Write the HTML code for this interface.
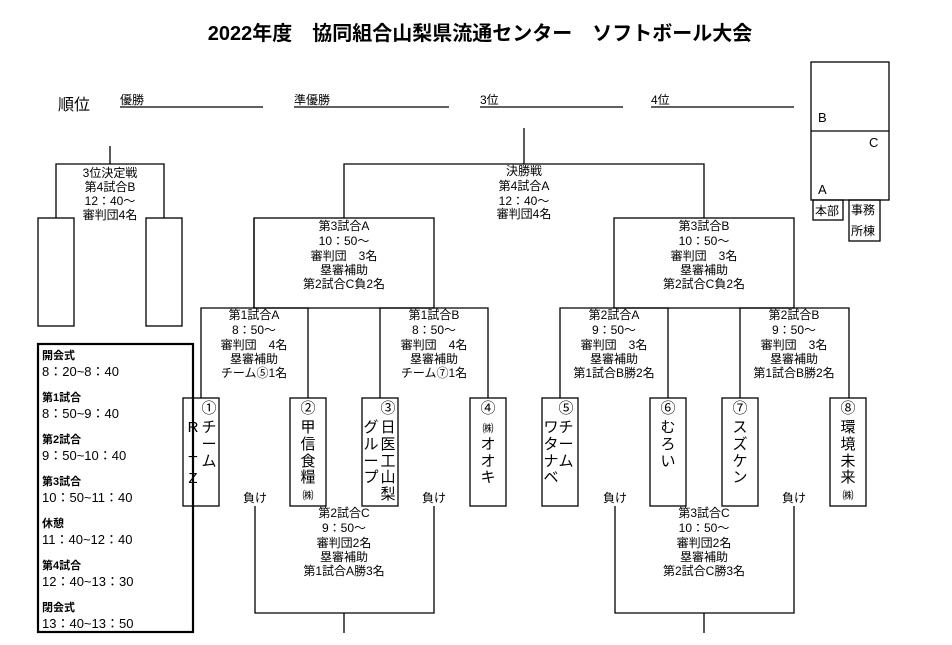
<!DOCTYPE html>
<html><head><meta charset="utf-8"><style>
html,body{margin:0;padding:0;background:#fff;}
svg{display:block;}
text{font-family:"Liberation Sans","Noto Sans CJK JP",sans-serif;fill:#000;}
.i{font-size:12px;text-anchor:middle;}
.t{font-size:15px;text-anchor:middle;}
.s{font-size:13px;}
.sb{font-size:11px;font-weight:bold;}
</style></head><body>
<svg width="952" height="645" viewBox="0 0 952 645" xmlns="http://www.w3.org/2000/svg">
<g stroke="#000" stroke-width="1.3" fill="none">
<!-- ranking lines -->
<line x1="120" y1="107" x2="263" y2="107"/>
<line x1="294" y1="107" x2="449" y2="107"/>
<line x1="480" y1="107" x2="623" y2="107"/>
<line x1="651" y1="107" x2="794" y2="107"/>
<!-- right map -->
<rect x="811" y="62" width="78" height="138"/>
<line x1="811" y1="131" x2="889" y2="131"/>
<rect x="813" y="200" width="30" height="20"/>
<rect x="849" y="200" width="31" height="41"/>
<!-- final -->
<line x1="524" y1="128" x2="524" y2="164"/>
<polyline points="254,218 254,308"/>
<polyline points="344,218 344,164 704,164 704,218"/>
<rect x="254" y="218" width="180" height="90"/>
<rect x="614" y="218" width="180" height="90"/>
<!-- 3rd place -->
<line x1="110" y1="146" x2="110" y2="164"/>
<polyline points="56,218 56,164 164,164 164,218"/>
<rect x="38" y="218" width="36" height="108"/>
<rect x="146" y="218" width="36" height="108"/>
<!-- round1 boxes -->
<polyline points="201,398 201,308 308,308 308,398"/>
<polyline points="380,398 380,308 488,308 488,398"/>
<polyline points="560,398 560,308 668,308 668,398"/>
<polyline points="740,398 740,308 849,308 849,398"/>
<!-- teams -->
<rect x="183" y="398" width="36" height="108"/>
<rect x="290" y="398" width="36" height="108"/>
<rect x="362" y="398" width="36" height="108"/>
<rect x="470" y="398" width="36" height="108"/>
<rect x="542" y="398" width="36" height="108"/>
<rect x="650" y="398" width="36" height="108"/>
<rect x="722" y="398" width="36" height="108"/>
<rect x="830" y="398" width="36" height="108"/>
<!-- loser brackets -->
<polyline points="255,506 255,613 434,613 434,506"/>
<line x1="344" y1="613" x2="344" y2="633"/>
<polyline points="615,506 615,613 794,613 794,506"/>
<line x1="704" y1="613" x2="704" y2="633"/>
</g>
<rect x="38" y="344" width="155" height="288" fill="none" stroke="#000" stroke-width="2.2"/>

<text x="480" y="40" style="font-size:20px;font-weight:bold;text-anchor:middle">2022年度　協同組合山梨県流通センター　ソフトボール大会</text>
<text x="58" y="110" style="font-size:16px">順位</text>
<text x="120" y="104" style="font-size:12px">優勝</text>
<text x="294" y="104" style="font-size:12px">準優勝</text>
<text x="480" y="104" style="font-size:12px">3位</text>
<text x="651" y="104" style="font-size:12px">4位</text>
<text x="818" y="122" style="font-size:13px">B</text>
<text x="869" y="147" style="font-size:13px">C</text>
<text x="818" y="194" style="font-size:13px">A</text>
<text x="815" y="215" style="font-size:12px">本部</text>
<text x="851" y="214" style="font-size:12px">事務</text>
<text x="851" y="235" style="font-size:12px">所棟</text>

<g class="i">
<text x="524" y="175">決勝戦</text><text x="524" y="190">第4試合A</text><text x="524" y="205">12：40～</text><text x="524" y="218">審判団4名</text>
<text x="110" y="177">3位決定戦</text><text x="110" y="191">第4試合B</text><text x="110" y="205">12：40～</text><text x="110" y="219">審判団4名</text>
<text x="344" y="230">第3試合A</text><text x="344" y="245">10：50～</text><text x="344" y="260">審判団　3名</text><text x="344" y="274">塁審補助</text><text x="344" y="288">第2試合C負2名</text>
<text x="704" y="230">第3試合B</text><text x="704" y="245">10：50～</text><text x="704" y="260">審判団　3名</text><text x="704" y="274">塁審補助</text><text x="704" y="288">第2試合C負2名</text>
<text x="254" y="319">第1試合A</text><text x="254" y="334">8：50～</text><text x="254" y="349">審判団　4名</text><text x="254" y="363">塁審補助</text><text x="254" y="377">チーム⑤1名</text>
<text x="434" y="319">第1試合B</text><text x="434" y="334">8：50～</text><text x="434" y="349">審判団　4名</text><text x="434" y="363">塁審補助</text><text x="434" y="377">チーム⑦1名</text>
<text x="614" y="319">第2試合A</text><text x="614" y="334">9：50～</text><text x="614" y="349">審判団　3名</text><text x="614" y="363">塁審補助</text><text x="614" y="377">第1試合B勝2名</text>
<text x="794" y="319">第2試合B</text><text x="794" y="334">9：50～</text><text x="794" y="349">審判団　3名</text><text x="794" y="363">塁審補助</text><text x="794" y="377">第1試合B勝2名</text>
<text x="344" y="517">第2試合C</text><text x="344" y="532">9：50～</text><text x="344" y="547">審判団2名</text><text x="344" y="561">塁審補助</text><text x="344" y="575">第1試合A勝3名</text>
<text x="704" y="517">第3試合C</text><text x="704" y="532">10：50～</text><text x="704" y="547">審判団2名</text><text x="704" y="561">塁審補助</text><text x="704" y="575">第2試合C勝3名</text>
<text x="255" y="502">負け</text><text x="434" y="502">負け</text><text x="615" y="502">負け</text><text x="794" y="502">負け</text>
</g>

<g class="t">
<text x="209" y="413">①</text><text x="209" y="432">チ</text><text x="209" y="449">ー</text><text x="209" y="466">ム</text>
<text x="193" y="432">R</text><text x="193" y="449">I</text><text x="193" y="466">T</text><text x="193" y="483">Z</text>
<text x="308" y="413">②</text><text x="308" y="432">甲</text><text x="308" y="449">信</text><text x="308" y="466">食</text><text x="308" y="482">糧</text><text x="308" y="499" style="font-size:11px">㈱</text>
<text x="388" y="413">③</text><text x="388" y="432">日</text><text x="388" y="449">医</text><text x="388" y="466">工</text><text x="388" y="482">山</text><text x="388" y="499">梨</text>
<text x="371" y="432">グ</text><text x="371" y="449">ル</text><text x="371" y="466">ー</text><text x="371" y="482">プ</text>
<text x="488" y="413">④</text><text x="488" y="432" style="font-size:11px">㈱</text><text x="488" y="449">オ</text><text x="488" y="466">オ</text><text x="488" y="482">キ</text>
<text x="566" y="413">⑤</text><text x="566" y="432">チ</text><text x="566" y="449">ー</text><text x="566" y="466">ム</text>
<text x="551" y="432">ワ</text><text x="551" y="449">タ</text><text x="551" y="466">ナ</text><text x="551" y="482">ベ</text>
<text x="668" y="413">⑥</text><text x="668" y="432">む</text><text x="668" y="449">ろ</text><text x="668" y="466">い</text>
<text x="740" y="413">⑦</text><text x="740" y="432">ス</text><text x="740" y="449">ズ</text><text x="740" y="466">ケ</text><text x="740" y="482">ン</text>
<text x="848" y="413">⑧</text><text x="848" y="432">環</text><text x="848" y="449">境</text><text x="848" y="466">未</text><text x="848" y="482">来</text><text x="848" y="499" style="font-size:11px">㈱</text>
</g>

<g>
<text x="42" y="359" class="sb">開会式</text><text x="42" y="376" class="s">8：20~8：40</text>
<text x="42" y="401" class="sb">第1試合</text><text x="42" y="418" class="s">8：50~9：40</text>
<text x="42" y="443" class="sb">第2試合</text><text x="42" y="460" class="s">9：50~10：40</text>
<text x="42" y="485" class="sb">第3試合</text><text x="42" y="502" class="s">10：50~11：40</text>
<text x="42" y="527" class="sb">休憩</text><text x="42" y="544" class="s">11：40~12：40</text>
<text x="42" y="569" class="sb">第4試合</text><text x="42" y="586" class="s">12：40~13：30</text>
<text x="42" y="611" class="sb">閉会式</text><text x="42" y="628" class="s">13：40~13：50</text>
</g>
</svg>
</body></html>
